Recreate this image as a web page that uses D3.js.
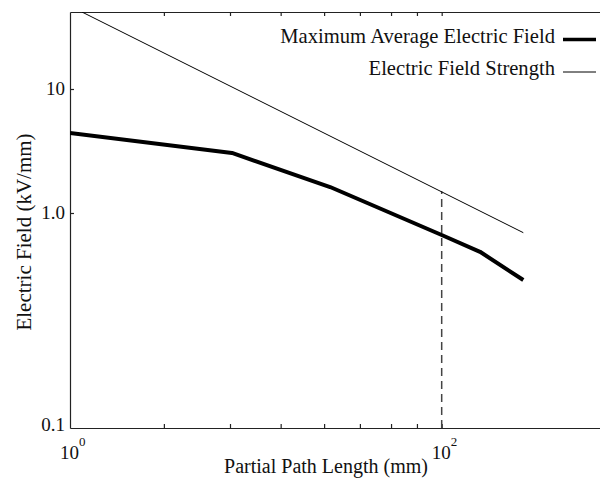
<!DOCTYPE html>
<html>
<head>
<meta charset="utf-8">
<script src="https://cdn.jsdelivr.net/npm/d3@7"></script>
<style>
  body { margin: 0; background: #fff; }
  svg { display: block; }
</style>
</head>
<body>
<div id="chart"></div>
<script>
// data
const maxFieldX = [1, 7.44, 25.1, 100, 160.8, 274.9];
const maxFieldY = [4.42, 3.05, 1.62, 0.79, 0.66, 0.488];
const strengthX = [1.16, 274.9];
const strengthY = [42, 0.81];
const markerX = [100, 100];
const markerY = [0.1, 1.5];
const xMinorTicks = [3.2, 7.26, 13.6, 23.3, 36.3, 53.4, 73.6, 100];
const xLabelTicks = [1, 100];
const xLabelExp = ['0', '2'];
const yTicks = [10, 1];
const yTickLabels = ['10', '1.0', '0.1'];
const yLabelValues = [10, 1, 0.1];
const legendNames = ['Maximum Average Electric Field', 'Electric Field Strength'];

const width = 600, height = 481;
const plotLeft = 70, plotTop = 12, plotBottom = 428, plotRight = 600;

const svg = d3.select('#chart').append('svg')
    .attr('width', width)
    .attr('height', height)
    .attr('font-family', '"Liberation Serif", "DejaVu Serif", serif');

const x = d3.scaleLog().domain([1, 711]).range([plotLeft, plotRight]);
// the picture's y axis is not evenly spaced per decade
const y = d3.scaleLog().domain([0.1, 1, 10, 42]).range([plotBottom, 213, 89, plotTop]);

svg.append('clipPath').attr('id', 'plot-clip')
    .append('rect')
    .attr('x', plotLeft).attr('y', plotTop)
    .attr('width', plotRight - plotLeft).attr('height', plotBottom - plotTop);

// axes, ticks pointing inward
svg.append('g')
    .attr('transform', `translate(0,${plotBottom})`)
    .call(d3.axisBottom(x).tickValues(xMinorTicks).tickSizeInner(-4).tickSizeOuter(0).tickFormat(''))
    .call(g => g.selectAll('path, line').attr('stroke', '#222').attr('stroke-width', 1.2));

svg.append('g')
    .attr('transform', `translate(0,${plotTop})`)
    .call(d3.axisTop(x).tickValues(xMinorTicks).tickSizeInner(-4).tickSizeOuter(0).tickFormat(''))
    .call(g => g.selectAll('path, line').attr('stroke', '#222').attr('stroke-width', 1.2));

svg.append('g')
    .attr('transform', `translate(${plotLeft},0)`)
    .call(d3.axisLeft(y).tickValues(yTicks).tickSizeInner(-4).tickSizeOuter(0).tickFormat(''))
    .call(g => g.selectAll('path, line').attr('stroke', '#222').attr('stroke-width', 1.2));

// y tick labels
svg.append('g').selectAll('text')
    .data(yLabelValues)
    .join('text')
    .attr('x', 65)
    .attr('y', d => Math.min(y(d), plotBottom - 3))
    .attr('dy', '0.33em')
    .attr('text-anchor', 'end')
    .attr('font-size', 19)
    .attr('fill', '#111')
    .text((d, i) => yTickLabels[i]);

// x tick labels as powers of ten
const xl = svg.append('g').selectAll('text')
    .data(xLabelTicks)
    .join('text')
    .attr('x', d => x(d) - 10)
    .attr('y', 459)
    .attr('font-size', 19)
    .attr('fill', '#111');
xl.append('tspan').text('10');
xl.append('tspan')
    .attr('font-size', 13)
    .attr('dy', -13)
    .text((d, i) => xLabelExp[i]);

// axis titles
svg.append('text')
    .attr('x', 326)
    .attr('y', 473)
    .attr('text-anchor', 'middle')
    .attr('font-size', 20)
    .attr('fill', '#111')
    .text('Partial Path Length (mm)');

svg.append('text')
    .attr('transform', 'translate(31,232) rotate(-90)')
    .attr('text-anchor', 'middle')
    .attr('font-size', 21)
    .attr('fill', '#111')
    .text('Electric Field (kV/mm)');

const line = d3.line().x(d => x(d[0])).y(d => y(d[1]));
const plot = svg.append('g').attr('clip-path', 'url(#plot-clip)');

plot.append('path')
    .datum(markerX.map((v, i) => [v, markerY[i]]))
    .attr('d', line)
    .attr('fill', 'none')
    .attr('stroke', '#444')
    .attr('stroke-width', 1.5)
    .attr('stroke-dasharray', '8,5');

plot.append('path')
    .datum(strengthX.map((v, i) => [v, strengthY[i]]))
    .attr('d', line)
    .attr('fill', 'none')
    .attr('stroke', '#000')
    .attr('stroke-width', 1);

plot.append('path')
    .datum(maxFieldX.map((v, i) => [v, maxFieldY[i]]))
    .attr('d', line)
    .attr('fill', 'none')
    .attr('stroke', '#000')
    .attr('stroke-width', 4)
    .attr('stroke-linejoin', 'round');

// legend
const legend = svg.append('g').selectAll('g')
    .data(legendNames)
    .join('g')
    .attr('transform', (d, i) => `translate(0,${43 + i * 32})`);

legend.append('text')
    .attr('x', 555)
    .attr('text-anchor', 'end')
    .attr('font-size', 20.6)
    .attr('fill', '#111')
    .text(d => d);

legend.append('line')
    .attr('x1', 563).attr('x2', 596)
    .attr('y1', (d, i) => i === 0 ? -3.5 : -3)
    .attr('y2', (d, i) => i === 0 ? -3.5 : -3)
    .attr('stroke', '#000')
    .attr('stroke-width', (d, i) => i === 0 ? 3.5 : 1);
</script>
</body>
</html>
